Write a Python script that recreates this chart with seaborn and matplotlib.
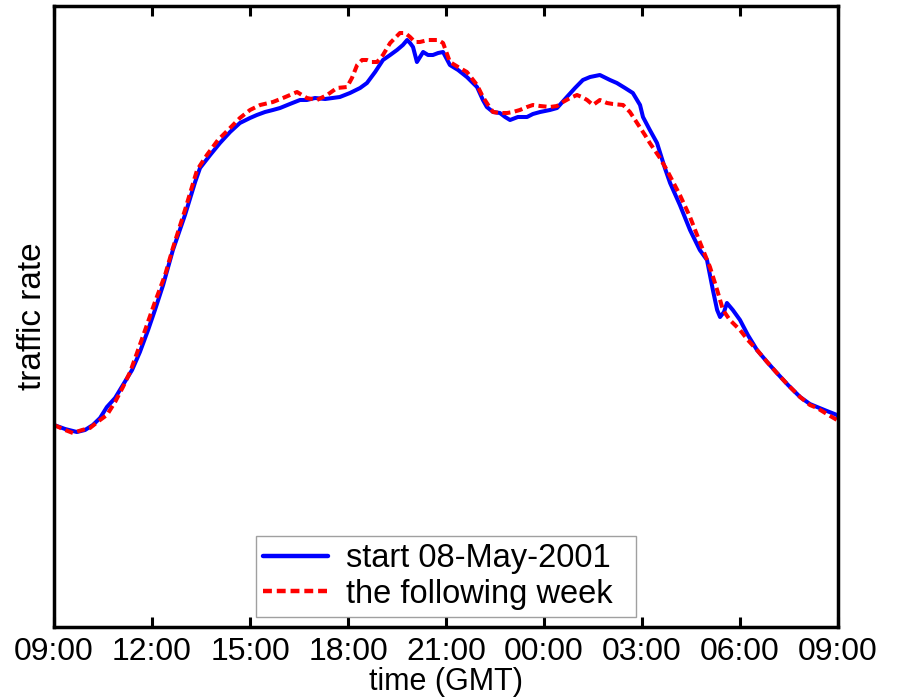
import numpy as np
import pandas as pd
import matplotlib
matplotlib.use("Agg")
import matplotlib.pyplot as plt
import seaborn as sns

# ---- data (rate in arbitrary units) ----
series_names = ["start 08-May-2001", "the following week"]
tick_labels = ["09:00", "12:00", "15:00", "18:00", "21:00", "00:00", "03:00", "06:00", "09:00"]
tick_hours = [0, 3, 6, 9, 12, 15, 18, 21, 24]

blue_hours = [0.00, 0.34, 0.70, 0.95, 1.19, 1.41, 1.62, 1.87, 2.11, 2.39, 2.63, 2.88, 3.09, 3.34,
              3.64, 4.01, 4.32, 4.47, 4.78, 5.08, 5.39, 5.69, 6.00, 6.21, 6.46, 6.70, 6.92, 7.22,
              7.53, 7.74, 7.99, 8.30, 8.75, 9.06, 9.37, 9.58, 9.83, 10.07, 10.29, 10.50, 10.68,
              10.81, 10.90, 10.99, 11.11, 11.30, 11.45, 11.60, 11.76, 11.91, 12.12, 12.37, 12.64,
              12.95, 13.13, 13.25, 13.44, 13.65, 13.81, 13.96, 14.20, 14.48, 14.66, 14.88, 15.18,
              15.40, 15.70, 15.95, 16.19, 16.41, 16.71, 17.02, 17.23, 17.48, 17.72, 17.94, 18.03,
              18.24, 18.46, 18.70, 18.86, 19.16, 19.47, 19.77, 19.99, 20.17, 20.30, 20.39, 20.51,
              20.60, 20.78, 21.00, 21.24, 21.52, 21.83, 22.13, 22.47, 22.84, 23.14, 23.36, 23.66,
              23.97, 24.00]
blue_rate = [202, 198, 195, 197, 202, 209, 220, 229, 242, 257, 275, 297, 317, 342,
             377, 412, 445, 459, 472, 484, 495, 504, 509, 512, 515, 517, 519, 523,
             527, 527, 529, 528, 530, 534, 539, 544, 555, 567, 572, 577, 582,
             587, 584, 580, 565, 575, 572, 572, 574, 575, 562, 557, 550,
             540, 527, 520, 515, 514, 510, 507, 510, 510, 513, 515, 517,
             519, 530, 539, 547, 550, 552, 547, 544, 539, 534, 522, 510,
             497, 484, 459, 444, 422, 397, 377, 367, 337, 317, 310, 315,
             324, 317, 307, 292, 277, 265, 254, 242, 230, 223, 220, 216,
             212, 210]

red_hours = [0.00, 0.34, 0.58, 0.86, 1.10, 1.41, 1.62, 1.87, 2.11, 2.33, 2.54, 2.79, 3.09, 3.40,
             3.64, 4.01, 4.38, 4.68, 5.02, 5.39, 5.69, 6.00, 6.31, 6.70, 7.01, 7.44, 7.74, 8.05,
             8.36, 8.66, 8.97, 9.12, 9.28, 9.43, 9.58, 9.73, 9.89, 10.07, 10.29, 10.44, 10.59,
             10.75, 10.90, 11.05, 11.20, 11.45, 11.60, 11.76, 11.91, 12.12, 12.37, 12.64, 12.95,
             13.13, 13.29, 13.44, 13.65, 13.87, 14.05, 14.26, 14.48, 14.66, 14.88, 15.18, 15.40,
             15.58, 15.80, 16.01, 16.16, 16.32, 16.50, 16.71, 16.93, 17.11, 17.42, 17.63, 17.85,
             18.09, 18.24, 18.55, 18.76, 19.16, 19.47, 19.77, 20.08, 20.30, 20.48, 20.69, 21.00,
             21.24, 21.52, 21.83, 22.13, 22.47, 22.84, 23.14, 23.36, 23.66, 23.97, 24.00]
red_rate = [202, 197, 194, 197, 199, 207, 212, 225, 240, 255, 274, 297, 325, 352,
            379, 417, 457, 472, 487, 499, 509, 517, 522, 525, 529, 535, 529, 527,
            532, 539, 540, 549, 562, 567, 567, 565, 565, 572, 584, 589, 594,
            594, 590, 585, 585, 587, 587, 587, 584, 565, 560, 555, 542,
            530, 522, 515, 514, 514, 515, 517, 520, 522, 521, 520, 521,
            525, 529, 532, 530, 527, 522, 527, 524, 523, 522, 515, 504,
            492, 484, 469, 457, 432, 410, 385, 360, 337, 317, 307, 297,
            287, 277, 265, 254, 242, 230, 222, 219, 213, 207, 205]

df = pd.concat([
    pd.DataFrame({"hours": blue_hours, "rate": blue_rate, "series": series_names[0]}),
    pd.DataFrame({"hours": red_hours, "rate": red_rate, "series": series_names[1]}),
], ignore_index=True)

# ---- plot ----
sns.set_style("white")
plt.rcParams["font.family"] = ["Liberation Sans", "DejaVu Sans"]
plt.rcParams["text.color"] = "black"
plt.rcParams["axes.labelcolor"] = "black"
plt.rcParams["xtick.color"] = "black"
plt.rcParams["ytick.color"] = "black"

fig = plt.figure(figsize=(8.97, 6.98), dpi=100)
ax = fig.add_axes([54 / 897, 71 / 698, 784 / 897, 621 / 698])

sns.lineplot(data=df, x="hours", y="rate", hue="series", style="series",
             hue_order=series_names, style_order=series_names,
             palette={series_names[0]: "#0000ff", series_names[1]: "#ff0000"},
             dashes={series_names[0]: "", series_names[1]: (2, 1.1)},
             linewidth=2.9, sort=False, estimator=None, ax=ax)

ax.set_xlim(0, 24)
ax.set_ylim(0, 621)
ax.set_xticks(tick_hours)
ax.set_xticklabels(tick_labels)
ax.set_yticks([])
ax.tick_params(axis="x", direction="in", length=7, width=2.2, top=True, bottom=True,
               labelsize=23, pad=7, colors="black")
for s in ax.spines.values():
    s.set_visible(True)
    s.set_linewidth(2.5)
    s.set_color("black")

ax.set_xlabel("time (GMT)", fontsize=22, labelpad=0, color="black")
ax.set_ylabel("traffic rate", fontsize=24, labelpad=4, color="black")

handles, labels = ax.get_legend_handles_labels()
leg = ax.legend(handles, labels, loc="lower left",
                bbox_to_anchor=(0.2577, 0.0161, 0.4847, 0.1), mode="expand",
                borderaxespad=0, fontsize=23.5, frameon=True, fancybox=False,
                edgecolor="#888888", handlelength=2.0, handletextpad=0.55,
                borderpad=0.22, labelspacing=0.15, labelcolor="black")
leg.get_frame().set_linewidth(1.0)
for line in leg.get_lines():
    line.set_linewidth(3.2)

fig.savefig("out.png", dpi=100)
